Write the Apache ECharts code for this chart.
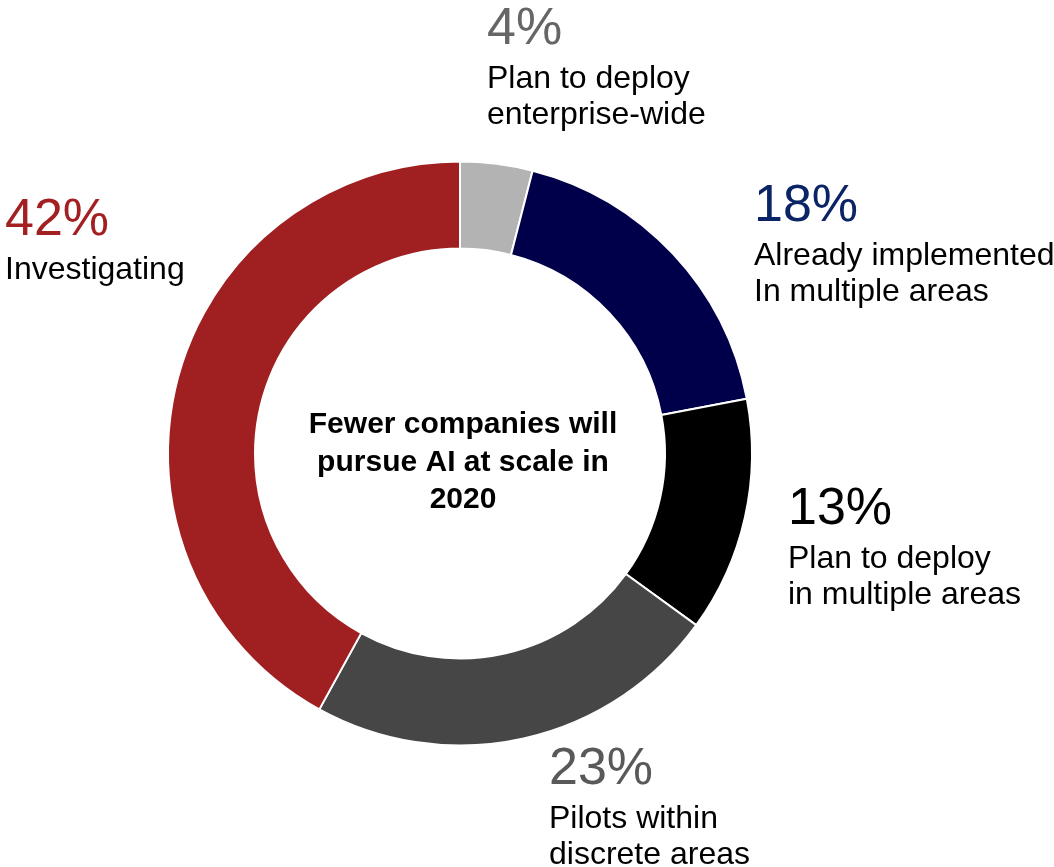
<!DOCTYPE html>
<html>
<head>
<meta charset="utf-8">
<script src="https://cdn.jsdelivr.net/npm/echarts@6/dist/echarts.min.js"></script>
<style>html,body{margin:0;padding:0;background:#fff;}#c{width:1054px;height:867px;}</style>
</head>
<body>
<div id="c"></div>
<script>
var categories = ['Plan to deploy\nenterprise-wide', 'Already implemented\nIn multiple areas', 'Plan to deploy\nin multiple areas', 'Pilots within\ndiscrete areas', 'Investigating'];
var values = [4, 18, 13, 23, 42];
var sliceColors = ['#b3b3b3', '#00004a', '#000000', '#464646', '#a01f21'];
var pctColors = ['#666666', '#0b2466', '#000000', '#595959', '#a21f22'];
// label anchor points (left x, top y)
var labelPos = [[487, -1], [754, 176], [788, 479], [549, 739], [5, 190]];
var centerTitle = 'Fewer companies will\npursue AI at scale in\n2020';

var chart = echarts.init(document.getElementById('c'));
var data = values.map(function (v, i) {
  return {
    value: v, name: categories[i],
    itemStyle: { color: sliceColors[i] },
    label: { rich: { p: { color: pctColors[i] } } }
  };
});
chart.setOption({
  animation: false,
  title: {
    text: centerTitle,
    left: 458, top: 401, textAlign: 'center',
    textStyle: { fontFamily: 'Liberation Sans', fontWeight: 'bold', fontSize: 30, lineHeight: 37.5, color: '#000' }
  },
  series: [{
    type: 'pie',
    center: [460, 453.5],
    radius: [205, 292],
    startAngle: 90,
    clockwise: true,
    avoidLabelOverlap: false,
    emphasis: { disabled: true },
    itemStyle: { borderColor: '#fff', borderWidth: 2 },
    labelLine: { show: false },
    label: {
      show: true,
      position: 'outside',
      formatter: function (p) {
        var lines = p.name.split('\n');
        return '{p|' + p.value + '%}\n' + lines.map(function (l) { return '{t|' + l + '}'; }).join('\n');
      },
      rich: {
        p: { fontFamily: 'Liberation Sans', fontSize: 52, lineHeight: 62 },
        t: { fontFamily: 'Liberation Sans', fontSize: 32, lineHeight: 36, color: '#000' }
      }
    },
    labelLayout: function (params) {
      var pos = labelPos[params.dataIndex];
      return { x: pos[0], y: pos[1], align: 'left', verticalAlign: 'top' };
    },
    data: data
  }]
});
</script>
</body>
</html>
